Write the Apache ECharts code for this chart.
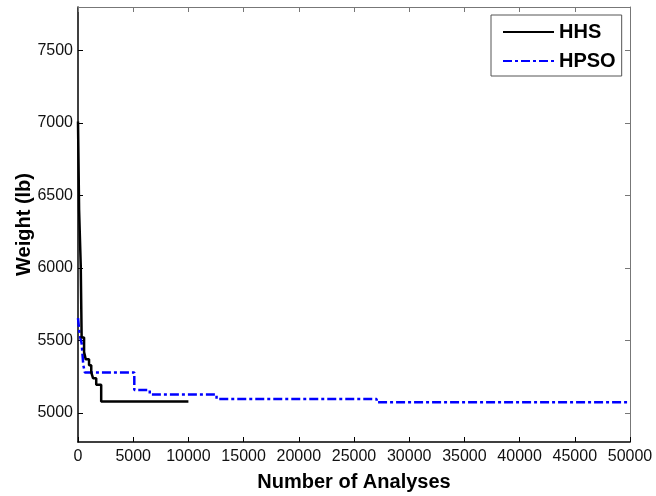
<!DOCTYPE html>
<html>
<head>
<meta charset="utf-8">
<script src="https://cdn.jsdelivr.net/npm/echarts@6/dist/echarts.min.js"></script>
<style>
  html, body { margin: 0; padding: 0; background: #fff; }
  #chart { width: 656px; height: 496px; }
</style>
</head>
<body>
<div id="chart"></div>
<script>
// Best-so-far weight vs. number of structural analyses (each point starts a new level)
const hhsAnalyses  = [0, 100, 250, 330, 550, 700, 1000, 1200, 1360, 1650, 2100, 10000];
const hhsWeight    = [7010, 6400, 6010, 5520, 5420, 5370, 5330, 5280, 5240, 5195, 5080, 5080];
const hpsoAnalyses = [0, 150, 330, 480, 620, 5100, 6500, 12550, 27050, 50000];
const hpsoWeight   = [5655, 5540, 5480, 5330, 5280, 5158, 5128, 5096, 5074, 5074];

const xTicks = [0, 5000, 10000, 15000, 20000, 25000, 30000, 35000, 40000, 45000, 50000];
const yTicks = [5000, 5500, 6000, 6500, 7000, 7500];

const seriesNames = ['HHS', 'HPSO'];

const pairs = (xs, ys) => xs.map((x, i) => [x, ys[i]]);
const plain = v => String(v);

const font = 'Liberation Sans, Arial, Helvetica, sans-serif';
const chart = echarts.init(document.getElementById('chart'), null, { renderer: 'canvas' });

const baseX = {
  type: 'value', min: 0, max: 50000, interval: 5000,
  splitLine: { show: false }
};
const baseY = {
  type: 'value', min: 4800, max: 7800,
  splitLine: { show: false }
};

chart.setOption({
  animation: false,
  backgroundColor: '#fff',
  grid: { left: 78, right: 26, top: 7, bottom: 54, containLabel: false, outerBoundsMode: 'none' },
  legend: {
    orient: 'vertical',
    left: 491, top: 15,
    padding: [7, 6, 5, 11],
    itemWidth: 51, itemHeight: 20, itemGap: 9,
    backgroundColor: '#fff',
    borderColor: '#555', borderWidth: 1,
    itemStyle: { opacity: 0, borderWidth: 0 },
    textStyle: { fontFamily: font, fontSize: 20, fontWeight: 'bold', color: '#000' },
    data: seriesNames
  },
  xAxis: [
    Object.assign({}, baseX, {
      position: 'bottom',
      name: 'Number of Analyses', nameLocation: 'middle', nameGap: 30, nameMoveOverlap: false,
      nameTextStyle: { fontFamily: font, fontSize: 20, fontWeight: 'bold', color: '#000' },
      axisLine: { show: true, onZero: false, lineStyle: { color: '#000', width: 1.5 } },
      axisTick: { show: true, inside: true, length: 5, lineStyle: { color: '#000' }, customValues: xTicks },
      axisLabel: { show: true, margin: 7, fontFamily: font, fontSize: 16, color: '#111', customValues: xTicks, formatter: plain }
    }),
    Object.assign({}, baseX, {
      position: 'top',
      axisLine: { show: true, onZero: false, lineStyle: { color: '#777', width: 1 } },
      axisTick: { show: true, inside: true, length: 5, lineStyle: { color: '#777' }, customValues: xTicks },
      axisLabel: { show: false }
    })
  ],
  yAxis: [
    Object.assign({}, baseY, {
      position: 'left',
      name: 'Weight (lb)', nameLocation: 'middle', nameGap: 44, nameRotate: 90, nameMoveOverlap: false,
      nameTextStyle: { fontFamily: font, fontSize: 20, fontWeight: 'bold', color: '#000' },
      axisLine: { show: true, onZero: false, lineStyle: { color: '#000', width: 1.5 } },
      axisTick: { show: true, inside: true, length: 5, lineStyle: { color: '#000' }, customValues: yTicks },
      axisLabel: { show: true, margin: 5, fontFamily: font, fontSize: 16, color: '#111', customValues: yTicks, formatter: plain }
    }),
    Object.assign({}, baseY, {
      position: 'right',
      axisLine: { show: true, onZero: false, lineStyle: { color: '#777', width: 1 } },
      axisTick: { show: true, inside: true, length: 5, lineStyle: { color: '#777' }, customValues: yTicks },
      axisLabel: { show: false }
    })
  ],
  series: [
    {
      name: seriesNames[0], type: 'line', step: 'end',
      xAxisIndex: 0, yAxisIndex: 0,
      symbol: 'none', clip: true,
      lineStyle: { color: '#000', width: 2.5, type: 'solid' },
      itemStyle: { color: '#000' },
      data: pairs(hhsAnalyses, hhsWeight),
      z: 3
    },
    {
      name: seriesNames[1], type: 'line', step: 'end',
      xAxisIndex: 0, yAxisIndex: 0,
      symbol: 'none', clip: true,
      lineStyle: { color: '#0000ff', width: 2.5, type: [9, 3, 3, 3] },
      itemStyle: { color: '#0000ff' },
      data: pairs(hpsoAnalyses, hpsoWeight),
      z: 2
    }
  ]
});
</script>
</body>
</html>
